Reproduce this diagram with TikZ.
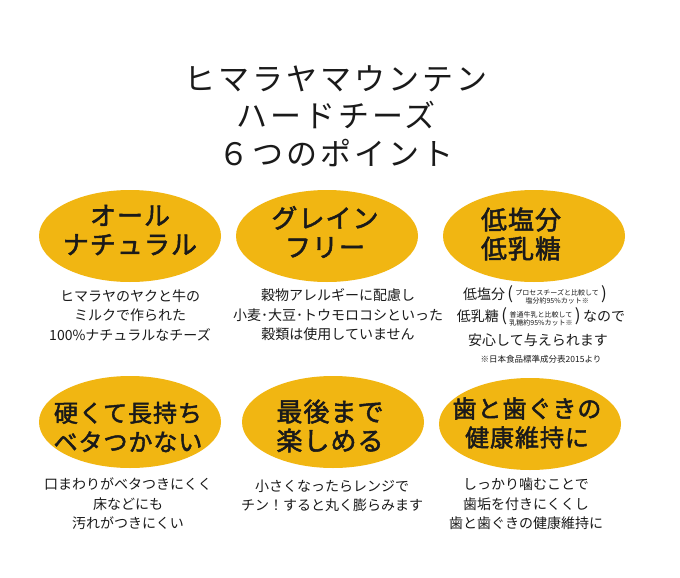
\documentclass[tikz,border=0pt]{standalone}
\usepackage{fontspec}
\usepackage{xcolor}
\usepackage{tikz}
\usetikzlibrary{shapes.geometric}
\newfontfamily\jp{Noto Sans CJK JP}
\newfontfamily\jphead{Noto Sans CJK JP}[LetterSpace=10]
\newfontfamily\jptag{Noto Sans CJK JP}[LetterSpace=4,FakeBold=2]
\definecolor{ink}{HTML}{1A1A1A}
\definecolor{gold}{HTML}{F1B612}
\newcommand{\twoline}[2]{{\fontsize{7}{8}\selectfont\begin{tabular}[c]{@{}c@{}}#1\\#2\end{tabular}}}
\newcommand{\bigparen}[1]{{\fontsize{17}{17}\selectfont #1}}
\tikzset{
  pill/.style={ellipse, fill=gold, minimum width=182pt, minimum height=92pt, inner sep=0pt},
  head/.style={text=ink, align=center, font=\jphead\fontsize{31}{37.5}\selectfont},
  badge/.style={text=ink, align=center, font=\jptag\fontsize{#1}{29}\selectfont},
  badge/.default=26,
  note/.style={text=ink, align=center, font=\jp\fontsize{14}{19.5}\selectfont},
  tiny/.style={text=ink, font=\jp\fontsize{8.5}{10}\selectfont}
}

\begin{document}
\begin{tikzpicture}[x=1pt,y=-1pt]
\useasboundingbox[fill=white] (0,0) rectangle (680,578);
\coordinate (P1) at (130,236);
\coordinate (P2) at (327,236);
\coordinate (P3) at (534,236);
\coordinate (P4) at (130,422);
\coordinate (P5) at (333,422);
\coordinate (P6) at (530,424);
\node[head] (title) at (336,116) {ヒマラヤマウンテン\\ハードチーズ\\６つのポイント};
\node[pill] (e1) at (P1) {};
\node[pill] (e2) at (P2) {};
\node[pill] (e3) at (P3) {};
\node[pill] (e4) at (P4) {};
\node[pill] (e5) at (P5) {};
\node[pill] (e6) at (P6) {};
\node[badge] (t1) at (130,230) {オール\\ナチュラル};
\node[badge] (t2) at (325,232) {グレイン\\フリー};
\node[badge] (t3) at (521,234) {低塩分\\低乳糖};
\node[badge=24] (t4) at (128,427) {硬くて長持ち\\ベタつかない};
\node[badge=26] (t5) at (330,426) {最後まで\\楽しめる};
\node[badge=24] (t6) at (527,423) {歯と歯ぐきの\\健康維持に};
\node[note] (d1) at (130,315) {ヒマラヤのヤクと牛の\\ミルクで作られた\\100\%ナチュラルなチーズ};
\node[note] (d2) at (338,315) {穀物アレルギーに配慮し\\小麦･大豆･トウモロコシといった\\穀類は使用していません};
\node[note] (d3a) at (535,296) {低塩分\,\bigparen{(}\,\twoline{プロセスチーズと比較して}{塩分約95\%カット※}\,\bigparen{)}};
\node[note] (d3b) at (541,318) {低乳糖\,\bigparen{(}\,\twoline{普通牛乳と比較して}{乳糖約95\%カット※}\,\bigparen{)}\,なので};
\node[note] (d3c) at (538,340) {安心して与えられます};
\node[tiny] (src) at (541,359) {※日本食品標準成分表2015より};
\node[note] (d4) at (128,504) {口まわりがベタつきにくく\\床などにも\\汚れがつきにくい};
\node[note] (d5) at (332,496) {小さくなったらレンジで\\チン！すると丸く膨らみます};
\node[note] (d6) at (526,504) {しっかり噛むことで\\歯垢を付きにくくし\\歯と歯ぐきの健康維持に};
\end{tikzpicture}
\end{document}
